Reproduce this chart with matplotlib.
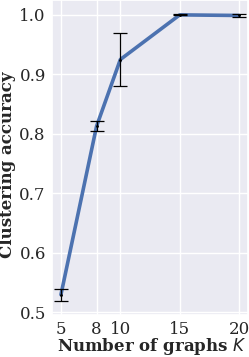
import matplotlib
matplotlib.use("Agg")
import matplotlib.pyplot as plt
import seaborn as sns

K_values = [5, 8, 10, 15, 20]
accuracy = [0.530, 0.813, 0.925, 1.000, 0.999]
accuracy_err = [0.010, 0.008, 0.044, 0.001, 0.002]
x_ticks = [5, 8, 10, 15, 20]
y_ticks = [0.5, 0.6, 0.7, 0.8, 0.9, 1.0]

sns.set_theme(style="darkgrid")
plt.rcParams['font.family'] = ['DejaVu Serif']

fig = plt.figure(figsize=(2.49, 3.57), dpi=100)
ax = fig.add_axes([0.209, 0.118, 0.787, 0.882])
ax.plot(K_values, accuracy, color="#4c72b0", lw=2.6, zorder=2)
ax.errorbar(K_values, accuracy, yerr=accuracy_err, fmt='.', color='black',
            markersize=2, elinewidth=0.9, capsize=5, capthick=0.9, zorder=3)
ax.set_xticks(x_ticks)
ax.set_yticks(y_ticks)
ax.set_xlim(4.25, 20.75)
ax.set_ylim(0.496, 1.025)
ax.tick_params(labelsize=12, length=0, pad=4.5, colors='#262626')
ax.set_xlabel("Number of graphs $K$", fontsize=12, fontweight='bold', va='top')
ax.xaxis.set_label_coords(0.51, -0.067)
ax.set_ylabel("Clustering accuracy", fontsize=12, fontweight='bold')
ax.yaxis.set_label_coords(-0.184, 0.476)
fig.savefig("out.png", dpi=100)
